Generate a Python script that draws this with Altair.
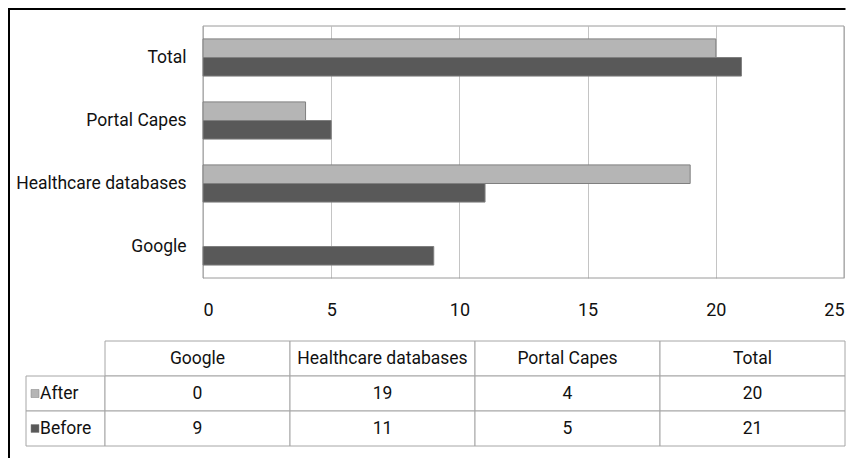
import altair as alt
import pandas as pd

# ---- data ----
categories = ["Google", "Healthcare databases", "Portal Capes", "Total"]
after = [0, 19, 4, 20]
before = [9, 11, 5, 21]
series = ["After", "Before"]
x_ticks = [0, 5, 10, 15, 20, 25]
bar_order = ["Total", "Portal Capes", "Healthcare databases", "Google"]
table_rows = ["hdr", "After", "Before"]

FONT = "Roboto"
TXT = "#111111"
HATCH = "#b5b5b5"
DARK = "#595959"
LINE = "#a6a6a6"

bars_df = pd.DataFrame(
    [{"category": c, "series": "After", "value": v} for c, v in zip(categories, after)]
    + [{"category": c, "series": "Before", "value": v} for c, v in zip(categories, before)]
)

x_enc = alt.X(
    "value:Q",
    scale=alt.Scale(domain=[0, 25], range=[177, 818], nice=False, zero=True),
    axis=alt.Axis(values=x_ticks, grid=True, gridColor="#c4c4c4", gridWidth=1,
                  domain=False, ticks=False, tickSize=0, labelPadding=23,
                  labelFontSize=18, labelFont=FONT, labelColor=TXT, title=None),
)

bars = alt.Chart(bars_df).transform_filter("datum.value > 0").mark_bar(
    stroke="#7f7f7f", strokeWidth=1
).encode(
    x=x_enc,
    y=alt.Y("category:N",
            scale=alt.Scale(domain=bar_order, paddingInner=0.41, paddingOuter=0.205),
            axis=alt.Axis(offset=-163, domain=False, ticks=False, tickSize=0,
                          labelPadding=3, labelFontSize=17.5, labelFont=FONT,
                          labelColor=TXT, labelLimit=400, title=None)),
    yOffset=alt.YOffset("series:N",
                        scale=alt.Scale(domain=series, paddingInner=0, paddingOuter=0)),
    color=alt.Color("series:N", scale=alt.Scale(domain=series, range=[HATCH, DARK]),
                    legend=None),
)

frame_df = pd.DataFrame({"value": [0], "value2": [25]})
frame = alt.Chart(frame_df).mark_rect(fillOpacity=0, stroke="#9a9a9a", strokeWidth=1).encode(
    x=x_enc, x2="value2:Q", y=alt.value(0), y2=alt.value("height")
)

one = pd.DataFrame({"k": [0]})
border_left = alt.Chart(one).mark_rect(color="black", strokeWidth=0).encode(
    x=alt.value(-18), x2=alt.value(-16), y=alt.value(-18), y2=alt.value(432)
)
border_top = alt.Chart(one).mark_rect(color="black", strokeWidth=0).encode(
    x=alt.value(-18), x2=alt.value(819.5), y=alt.value(-18), y2=alt.value(-16)
)

bar_chart = alt.layer(frame, bars, border_left, border_top).properties(width=819, height=252)

# ---- data table ----
tab_rows = []
for c, a, b in zip(categories, after, before):
    tab_rows.append({"category": c, "row": "hdr", "label": c})
    tab_rows.append({"category": c, "row": "After", "label": str(a)})
    tab_rows.append({"category": c, "row": "Before", "label": str(b)})
tab_df = pd.DataFrame(tab_rows)

ysc = alt.Scale(domain=table_rows, paddingInner=0, paddingOuter=0)
grid_base = alt.Chart(tab_df).encode(
    x=alt.X("category:N", scale=alt.Scale(domain=categories, paddingInner=0, paddingOuter=0),
            axis=None),
    y=alt.Y("row:N", scale=ysc, axis=None),
)
cells = grid_base.mark_rect(fill="white", stroke=LINE, strokeWidth=1)
texts = grid_base.mark_text(fontSize=17.5, font=FONT, color=TXT).encode(text="label:N")
grid_chart = alt.layer(cells, texts).properties(width=740, height=105)

lab_df = pd.DataFrame({"row": series})
lab_base = alt.Chart(lab_df).encode(y=alt.Y("row:N", scale=ysc, axis=None))
lab_cells = lab_base.mark_rect(fill="white", stroke=LINE, strokeWidth=1).encode(
    x=alt.value(0), x2=alt.value("width")
)
swatch = lab_base.mark_square(size=64, opacity=1, stroke="#808080", strokeWidth=0.5).encode(
    x=alt.value(9),
    color=alt.Color("row:N", scale=alt.Scale(domain=series, range=[HATCH, DARK]), legend=None),
)
lab_text = lab_base.mark_text(align="left", fontSize=17.5, font=FONT, color=TXT).encode(
    x=alt.value(14), text="row:N"
)
label_chart = alt.layer(lab_cells, swatch, lab_text).properties(width=79, height=105)

table = alt.hconcat(label_chart, grid_chart, spacing=0, bounds="flush")

chart = alt.vconcat(bar_chart, table, spacing=63, bounds="flush").properties(
    padding=0, background="white"
).configure_view(stroke=None)

chart.save("out.html", embed_options={"renderer": "svg", "actions": False})
